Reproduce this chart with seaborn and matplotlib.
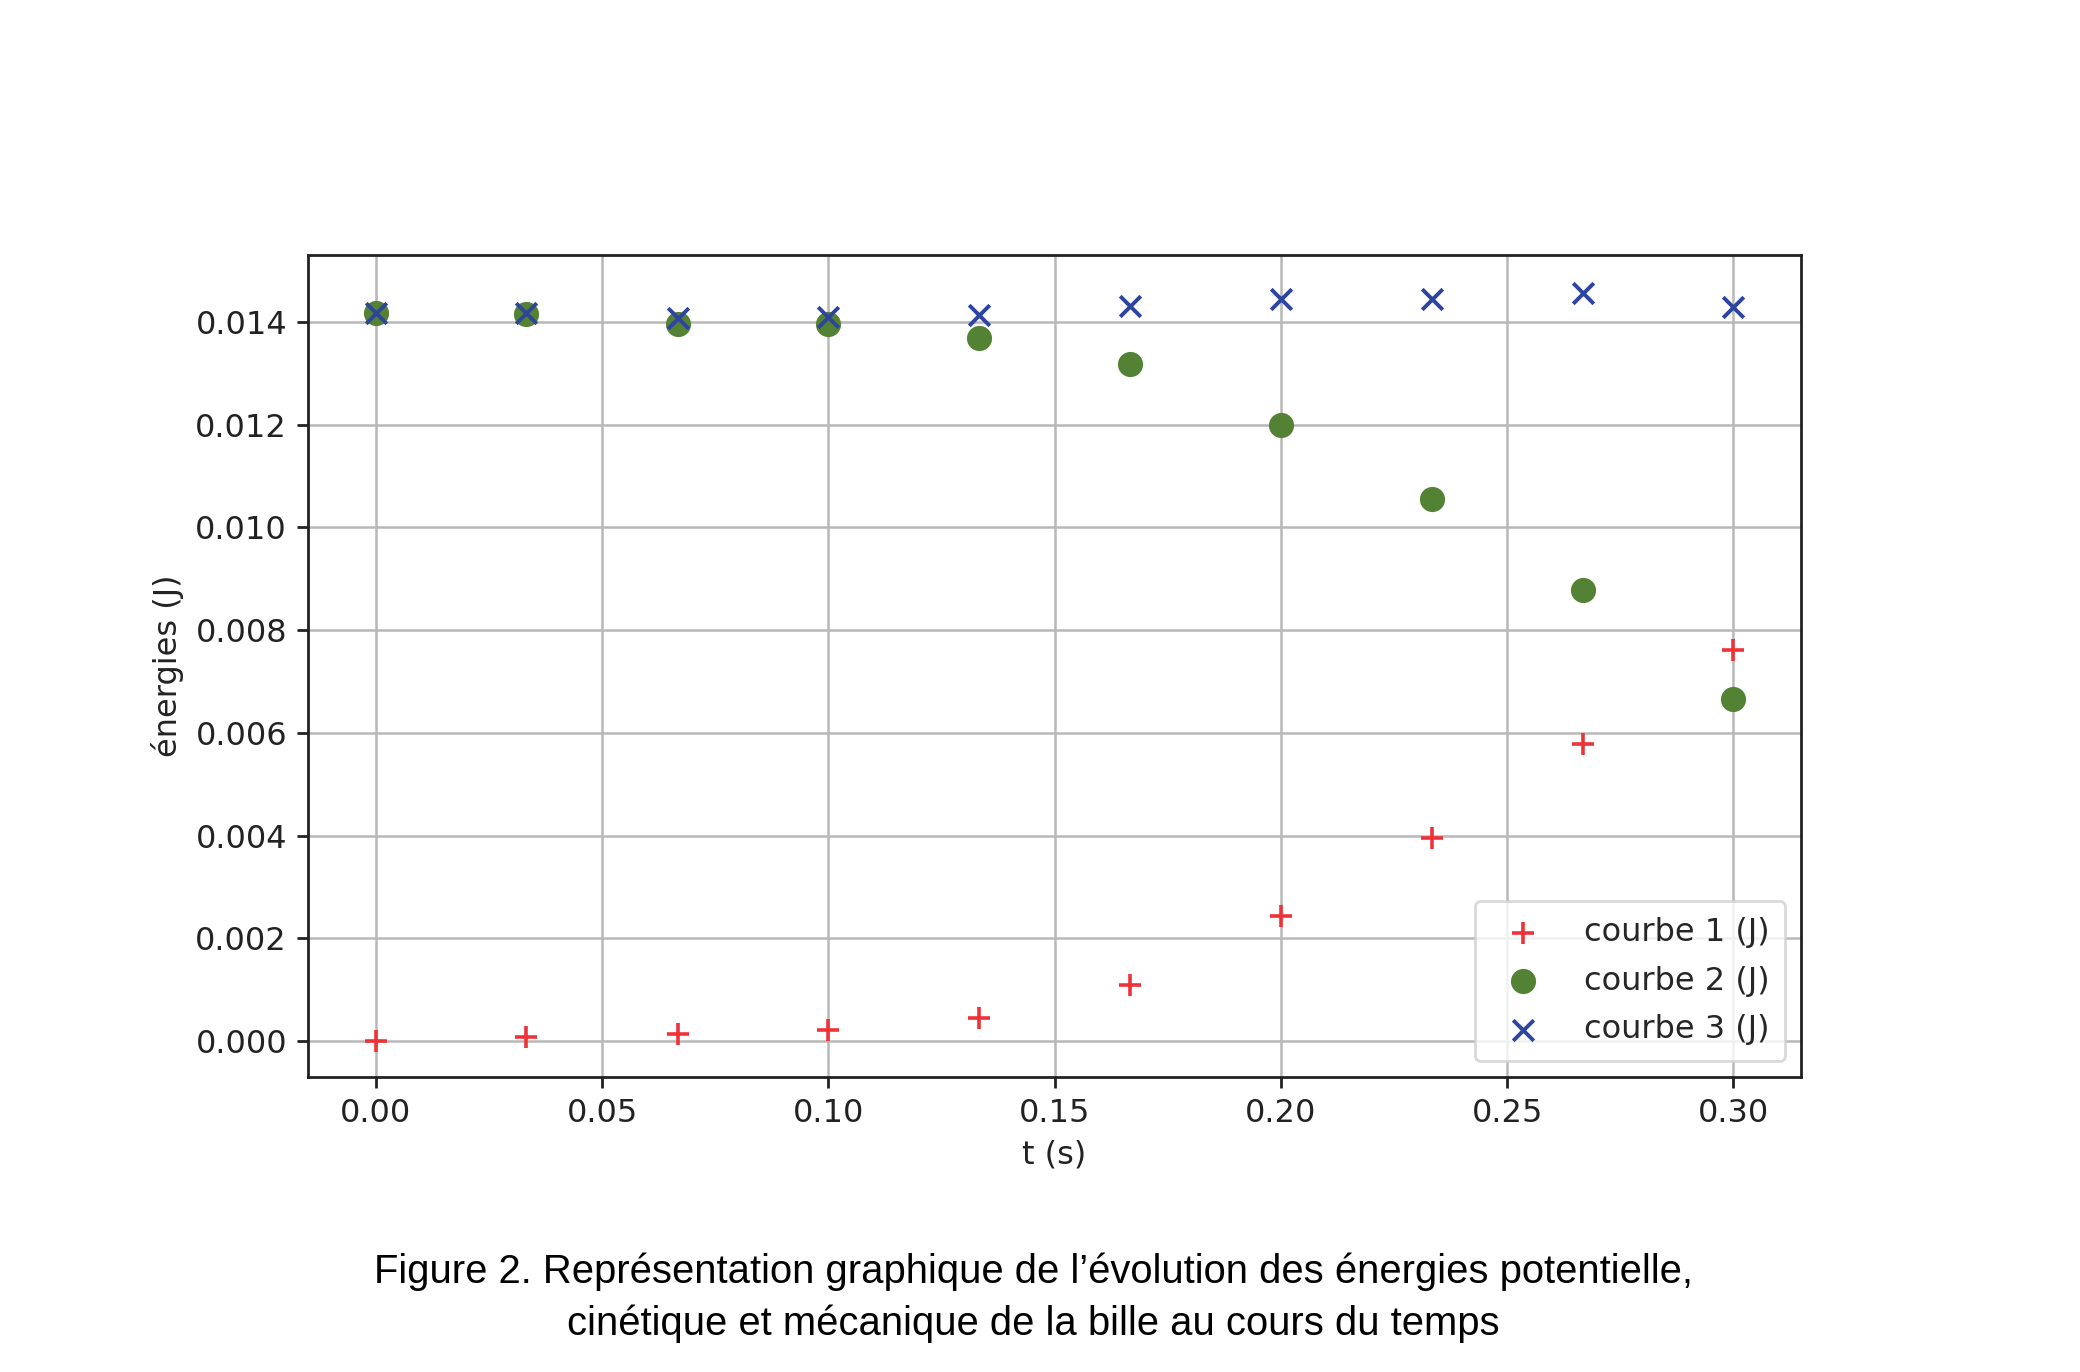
import numpy as np
import pandas as pd
import matplotlib
matplotlib.use('Agg')
import matplotlib.pyplot as plt
import seaborn as sns

# données
t = [0.0, 0.0333, 0.0667, 0.1, 0.1333, 0.1667, 0.2, 0.2333, 0.2667, 0.3]
courbe1 = [0.0, 0.00008, 0.00013, 0.00021, 0.00044, 0.00109, 0.00244, 0.00395, 0.00579, 0.00761]
courbe2 = [0.01418, 0.01416, 0.01397, 0.01397, 0.01369, 0.01319, 0.0120, 0.01055, 0.00878, 0.00665]
courbe3 = [0.01418, 0.01418, 0.01408, 0.0141, 0.01413, 0.01431, 0.01444, 0.01444, 0.01457, 0.01429]
xticks = [0.0, 0.05, 0.10, 0.15, 0.20, 0.25, 0.30]
yticks = [0.0, 0.002, 0.004, 0.006, 0.008, 0.010, 0.012, 0.014]

df = pd.DataFrame({'t': t, 'c1': courbe1, 'c2': courbe2, 'c3': courbe3})

sns.set_style('white')
plt.rcParams['font.family'] = ['DejaVu Sans']

fig = plt.figure(figsize=(10.4, 6.86), dpi=200)
ax = fig.add_axes([0.148, 0.215, 0.718, 0.599])

sns.scatterplot(data=df, x='t', y='c1', marker='+', color='#ee3338', s=62, linewidth=1.3,
                label='courbe 1 (J)', ax=ax, zorder=3)
sns.scatterplot(data=df, x='t', y='c2', marker='o', color='#548235', s=82, linewidth=0,
                label='courbe 2 (J)', ax=ax, zorder=3)
sns.scatterplot(data=df, x='t', y='c3', marker='x', color='#2e45a0', s=55, linewidth=1.4,
                label='courbe 3 (J)', ax=ax, zorder=4)

ax.set_xlim(-0.015, 0.315)
ax.set_ylim(-0.0007, 0.0153)
ax.set_xticks(xticks)
ax.set_xticklabels([f'{v:.2f}' for v in xticks])
ax.set_yticks(yticks)
ax.set_yticklabels([f'{v:.3f}' for v in yticks])
ax.grid(True, color='#b8b8b8', linewidth=0.9)
ax.set_axisbelow(True)
for s in ax.spines.values():
    s.set_color('#222222')
    s.set_linewidth(1.0)
ax.tick_params(axis='both', labelsize=11.5, colors='#222222', length=4, width=1, direction='out',
               bottom=True, left=True)
ax.set_xlabel('t (s)', fontsize=11.5, color='#222222')
ax.set_ylabel('énergies (J)', fontsize=11.5, color='#222222')

leg = ax.legend(loc='lower right', fontsize=11.5, handletextpad=0.9, borderpad=0.5,
                labelspacing=0.55, frameon=True, framealpha=0.8, fancybox=True)
leg.get_frame().set_edgecolor('#d0d0d0')

fig.text(0.497, 0.073, 'Figure 2. Représentation graphique de l’évolution des énergies potentielle,',
         ha='center', va='center', fontsize=14.4, color='black',
         family=['Liberation Sans', 'DejaVu Sans'])
fig.text(0.497, 0.035, 'cinétique et mécanique de la bille au cours du temps',
         ha='center', va='center', fontsize=14.4, color='black',
         family=['Liberation Sans', 'DejaVu Sans'])

fig.savefig('out.png', dpi=200, facecolor='white')
